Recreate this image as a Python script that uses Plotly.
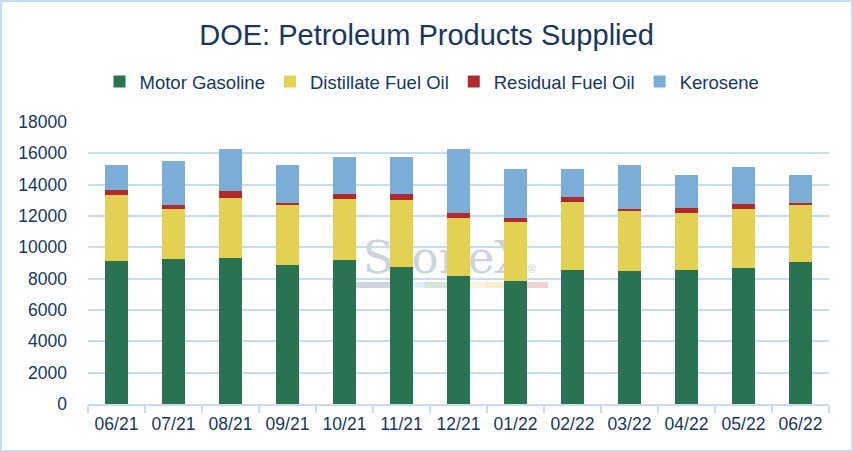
import plotly.graph_objects as go

# 数据（从图中读取，单位：千桶/日）
months = ["06/21", "07/21", "08/21", "09/21", "10/21", "11/21", "12/21",
          "01/22", "02/22", "03/22", "04/22", "05/22", "06/22"]
motor_gasoline = [9120, 9250, 9310, 8860, 9180, 8740, 8160, 7840, 8545, 8480, 8545, 8670, 9055]
distillate_fuel_oil = [4200, 3190, 3830, 3830, 3890, 4270, 3700, 3760, 4335, 3825, 3635, 3760, 3635]
residual_fuel_oil = [320, 255, 445, 130, 320, 380, 300, 255, 320, 130, 320, 320, 130]
kerosene = [1590, 2800, 2680, 2420, 2360, 2360, 4100, 3125, 1785, 2805, 2105, 2360, 1785]
y_ticks = list(range(0, 18001, 2000))

W, H = 853, 452
L, R, T, B = 88, 24, 122, 48
TEXT = "#17375e"
GRID = "#c6dcf1"
FONT = "Liberation Sans, Arial, sans-serif"


def px_x(p):
    return (p - L) / (W - L - R)


def px_y(p):
    return (H - B - p) / (H - T - B)


series = [
    ("Motor Gasoline", motor_gasoline, "#2a7352"),
    ("Distillate Fuel Oil", distillate_fuel_oil, "#e2d152"),
    ("Residual Fuel Oil", residual_fuel_oil, "#b2292e"),
    ("Kerosene", kerosene, "#7badd6"),
]

fig = go.Figure()
for name, vals, color in series:
    fig.add_trace(go.Bar(x=months, y=vals, name=name, marker_color=color,
                         marker_line_width=0))

# 水印条纹
stripes = [
    (332, 392, "#cdd5de"), (392, 425, "#e2edf7"), (425, 450, "#d5e3d8"),
    (450, 486, "#faf4dc"), (486, 520, "#fcebd0"), (520, 548, "#f2d4d6"),
]
shapes = [dict(type="rect", xref="paper", yref="paper", layer="below",
               x0=px_x(a), x1=px_x(b), y0=px_y(288), y1=px_y(282),
               fillcolor=c, line_width=0) for a, b, c in stripes]
# 水印文字（放在柱子下面）
shapes.append(dict(type="rect", xref="paper", yref="paper", layer="below",
                   x0=px_x(340), x1=px_x(560), y0=px_y(278), y1=px_y(230),
                   fillcolor="rgba(0,0,0,0)", line_width=0,
                   label=dict(text="StoneX<span style='font-size:11px'>®</span>",
                              textposition="middle center",
                              font=dict(family="DejaVu Serif, serif", size=45,
                                        color="#cdd4dc"))))
# 外框
shapes.append(dict(type="rect", xref="paper", yref="paper",
                   x0=px_x(1), x1=px_x(852), y0=px_y(451), y1=px_y(1),
                   line=dict(color=GRID, width=2)))

fig.update_layout(
    width=W, height=H,
    barmode="stack", bargap=0.6,
    margin=dict(l=L, r=R, t=T, b=B),
    paper_bgcolor="white", plot_bgcolor="white",
    font=dict(family=FONT, color=TEXT, size=17),
    title=dict(text="DOE: Petroleum Products Supplied", x=0.5, xref="container",
               xanchor="center", y=1 - 35 / H, yanchor="middle",
               font=dict(size=29, color=TEXT, family=FONT)),
    legend=dict(orientation="h", x=px_x(432), xanchor="center",
                y=px_y(82), yanchor="middle", font=dict(size=18.5),
                traceorder="normal"),
    shapes=shapes,
)
fig.update_xaxes(showline=True, linecolor=GRID, linewidth=2,
                 ticks="outside", tickson="boundaries", ticklen=7,
                 tickcolor=GRID, tickwidth=2, showgrid=False,
                 ticklabelstandoff=3, tickfont=dict(size=17.5))
fig.update_yaxes(range=[0, 18000], tickvals=y_ticks, tickformat="d",
                 showgrid=True, gridcolor=GRID, gridwidth=2, zeroline=False,
                 ticklabelstandoff=20, tickfont=dict(size=17.5))

fig.write_html("out.html", config={"displayModeBar": False},
               post_script="document.body.style.margin='0';")
